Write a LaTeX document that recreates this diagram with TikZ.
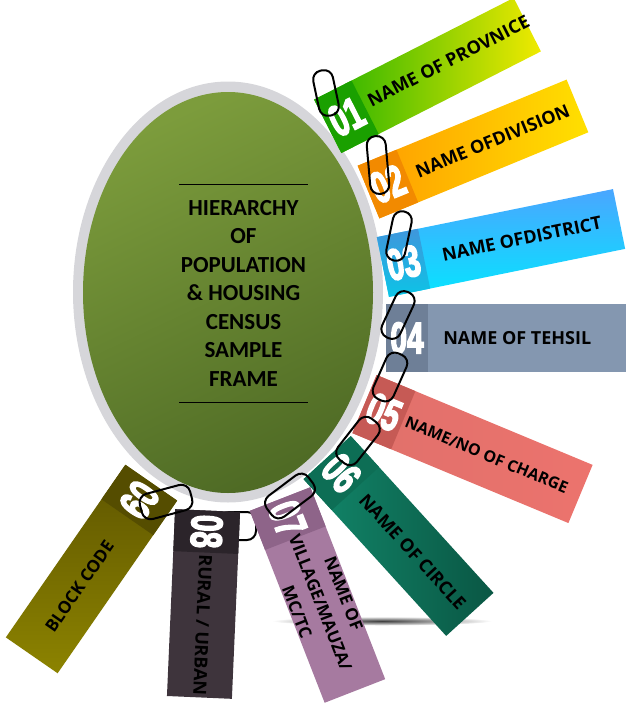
\documentclass[tikz,border=0pt]{standalone}
\usepackage{fontspec}
\usepackage{tikz}
\usetikzlibrary{positioning, calc, shapes.geometric}

\newfontfamily\titlefont{Carlito}
\newfontfamily\labelfont{Open Sans}
\newfontfamily\numfont{Liberation Sans}[BoldFeatures={FakeBold=4}]
\newcommand{\numtxt}[1]{\scalebox{0.68}[1]{#1}}

\definecolor{ringgray}{HTML}{D6D6DA}
\definecolor{discA}{HTML}{7C9C3C}
\definecolor{discB}{HTML}{4F6B25}
\definecolor{provA}{HTML}{1DB000}
\definecolor{provB}{HTML}{F0EA00}
\definecolor{provS}{HTML}{1AA000}
\definecolor{divA}{HTML}{FF9A00}
\definecolor{divB}{HTML}{FFE000}
\definecolor{divS}{HTML}{F28A00}
\definecolor{distA}{HTML}{4AA6FF}
\definecolor{distB}{HTML}{06E4FF}
\definecolor{distSA}{HTML}{3F96DC}
\definecolor{distSB}{HTML}{0CC4E6}
\definecolor{tehC}{HTML}{8497B0}
\definecolor{tehS}{HTML}{6E7F97}
\definecolor{chgA}{HTML}{E0706B}
\definecolor{chgM}{HTML}{B0504C}
\definecolor{chgB}{HTML}{EC736D}
\definecolor{chgS}{HTML}{C65A55}
\definecolor{circA}{HTML}{12876A}
\definecolor{circB}{HTML}{0A5744}
\definecolor{circS}{HTML}{0D6E55}
\definecolor{mauzaC}{HTML}{A67AA0}
\definecolor{mauzaS}{HTML}{8E6489}
\definecolor{rurC}{HTML}{3E343C}
\definecolor{rurS}{HTML}{2B242A}
\definecolor{blockA}{HTML}{5E5500}
\definecolor{blockB}{HTML}{8C8300}
\definecolor{blockS}{HTML}{554D00}

\tikzset{
  tabbox/.style={rectangle, inner sep=0pt},
  numbox/.style={rectangle, inner sep=0pt, anchor=west, minimum width=42pt, text=white,
    font=\numfont\bfseries\fontsize{44}{44}\selectfont},
  tablabel/.style={inner sep=0pt, align=center, text=black,
    font=\labelfont\bfseries\fontsize{18}{24}\selectfont},
  paperclip/.style={draw=black, line width=2pt, rectangle, rounded corners=9pt, inner sep=0pt,
    minimum width=50pt, minimum height=20pt},
}

\begin{document}
\begin{tikzpicture}[x=1pt, y=-1pt]
\useasboundingbox (0,0) rectangle (636,705);

% shadow below the lower tabs
\node[ellipse, inner sep=0pt, minimum width=220pt, minimum height=9pt, inner color=black!75, outer color=white] (shadow) at (382,621) {};

% tab 09 sits behind the ring
\node[tabbox, rotate=-124.7, minimum width=210pt, minimum height=63pt, top color=blockA, bottom color=blockB] (block) at (91.5,569) {};
\node[numbox, rotate=-124.7, minimum height=63pt, fill=blockS] (n9) at (block.west) {\numtxt{09}};
\node[tablabel, rotate=55.3, font=\labelfont\bfseries\fontsize{17}{24}\selectfont] (l9) at ($(n9.east)!0.5!(block.east)$) {BLOCK CODE};

% the ring and the disc
\node[ellipse, fill=ringgray, inner sep=0pt, minimum width=310pt, minimum height=421pt] (ring) at (228,292) {};
\node[ellipse, inner sep=0pt, minimum width=290pt, minimum height=401pt, top color=discA, bottom color=discB, shading angle=25] (disc) at (228,292.5) {};
\node[font=\titlefont\bfseries\fontsize{23}{28.5}\selectfont, align=center, text=black] (title) at (243.5,293)
  {HIERARCHY\\OF\\POPULATION\\\& HOUSING\\CENSUS\\SAMPLE\\FRAME};
\coordinate (r1) at (179,184);
\coordinate (r2) at (308,184);
\coordinate (r3) at (179,402);
\coordinate (r4) at (308,402);
\draw[line width=0.8pt] (r1) -- (r2);
\draw[line width=0.8pt] (r3) -- (r4);

% clip of tab 08 goes under it
\node[paperclip, minimum width=36pt, minimum height=28pt] (c8) at (238,526) {};

% tabs
\node[tabbox, rotate=27, minimum width=224pt, minimum height=60pt, left color=provA, right color=provB] (prov) at (427.5,75.5) {};
\node[numbox, rotate=27, minimum height=60pt, fill=provS] (n1) at (prov.west) {\numtxt{01}};
\node[tablabel, rotate=27] (l1) at ($(n1.east)!0.5!(prov.east)+(2,-5)$) {NAME OF PROVNICE};

\node[tabbox, rotate=22.4, minimum width=226pt, minimum height=57pt, left color=divA, right color=divB] (div) at (473,149) {};
\node[numbox, rotate=22.4, minimum height=57pt, fill=divS] (n2) at (div.west) {\numtxt{02}};
\node[tablabel, rotate=22.4] (l2) at ($(n2.east)!0.5!(div.east)$) {NAME OFDIVISION};

\node[tabbox, rotate=11.5, minimum width=241pt, minimum height=61pt, top color=distA, bottom color=distB] (dist) at (501,243) {};
\node[numbox, rotate=11.5, minimum height=61pt, top color=distSA, bottom color=distSB] (n3) at (dist.west) {\numtxt{03}};
\node[tablabel, rotate=11.5] (l3) at ($(n3.east)!0.5!(dist.east)$) {NAME OFDISTRICT};

\node[tabbox, minimum width=240pt, minimum height=68pt, fill=tehC] (teh) at (506,338) {};
\node[numbox, minimum height=68pt, fill=tehS] (n4) at (teh.west) {\numtxt{04}};
\node[tablabel] (l4) at ($(n4.east)!0.45!(teh.east)$) {NAME OF TEHSIL};

\node[tabbox, rotate=-22.6, minimum width=234pt, minimum height=63pt, left color=chgA, middle color=chgM, right color=chgB] (chg) at (472.5,449) {};
\node[numbox, rotate=-22.6, minimum height=63pt, fill=chgS] (n5) at (chg.west) {\numtxt{05}};
\node[tablabel, rotate=-22.6, font=\labelfont\bfseries\fontsize{16}{24}\selectfont] (l5) at ($(n5.east)!0.47!(chg.east)$) {NAME/NO OF CHARGE};

\node[tabbox, rotate=-47.7, minimum width=212pt, minimum height=64pt, left color=circA, right color=circB] (circ) at (398.5,536) {};
\node[numbox, rotate=-47.7, minimum height=64pt, fill=circS] (n6) at (circ.west) {\numtxt{06}};
\node[tablabel, rotate=-47.7] (l6) at ($(n6.east)!0.5!(circ.east)$) {NAME OF CIRCLE};

\node[tabbox, rotate=-68.7, minimum width=206pt, minimum height=65pt, fill=mauzaC] (mauza) at (317.5,595) {};
\node[numbox, rotate=-68.7, minimum height=65pt, fill=mauzaS] (n7) at (mauza.west) {\numtxt{07}};
\node[tablabel, rotate=-68.7, font=\labelfont\bfseries\fontsize{17}{25}\selectfont] (l7) at ($(n7.east)!0.42!(mauza.east)$) {NAME OF\\VILLAGE/MAUZA/\\MC/TC};

\node[tabbox, rotate=-92.5, minimum width=187pt, minimum height=65pt, fill=rurC] (rur) at (203.5,604) {};
\node[numbox, rotate=-92.5, minimum height=65pt, fill=rurS] (n8) at (rur.west) {\numtxt{08}};
\node[tablabel, rotate=-92.5] (l8) at ($(n8.east)!0.5!(rur.east)$) {RURAL / URBAN};

% paper clips
\node[paperclip, rotate=102, minimum width=46pt] (c1) at (326,93) {};
\node[paperclip, rotate=95, minimum width=58pt, minimum height=19pt] (c2) at (378,165) {};
\node[paperclip, rotate=78, minimum height=19pt] (c3) at (399,236) {};
\node[paperclip, rotate=65] (c4) at (398,315) {};
\node[paperclip, rotate=66, minimum height=22pt] (c5) at (390,377) {};
\node[paperclip, rotate=52, minimum width=52pt, minimum height=24pt] (c6) at (358,441) {};
\node[paperclip, rotate=37, minimum width=52pt, minimum height=26pt] (c7) at (290,496) {};
\node[paperclip, rotate=15, minimum width=52pt, minimum height=26pt] (c9) at (166,502) {};
\end{tikzpicture}
\end{document}
